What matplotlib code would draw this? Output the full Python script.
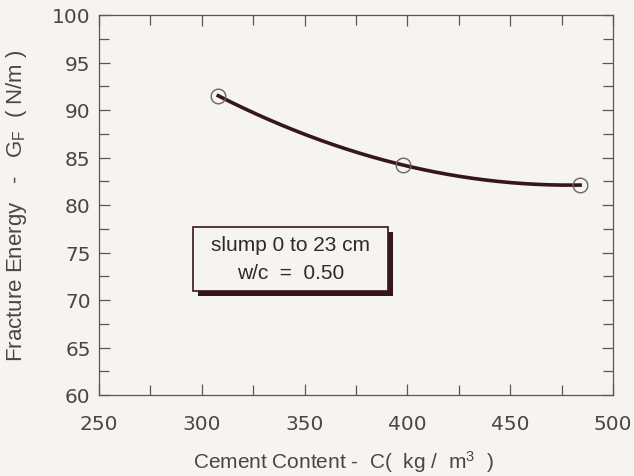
import numpy as np
import matplotlib.pyplot as plt
from matplotlib.patches import Rectangle

# data
cement = [308, 398, 484]          # kg/m3
fracture_energy = [91.5, 84.2, 82.1]   # N/m

x_ticks = [250, 300, 350, 400, 450, 500]
y_ticks = [60, 65, 70, 75, 80, 85, 90, 95, 100]

plt.rcParams['font.family'] = ['Liberation Sans', 'DejaVu Sans']
plt.rcParams['mathtext.fontset'] = 'custom'
plt.rcParams['mathtext.rm'] = 'Liberation Sans'
plt.rcParams['mathtext.it'] = 'Liberation Sans'
text_col = '#4a4646'
line_col = '#36161e'
bg = '#f6f4f0'

fig = plt.figure(figsize=(6.34, 4.77), dpi=100, facecolor=bg)
ax = fig.add_axes([99 / 634, 1 - 396 / 477, 514 / 634, 380 / 477])
ax.set_facecolor(bg)

# smooth fitted curve through the measured points
coef = np.polyfit(cement, fracture_energy, 2)
xs = np.linspace(cement[0], cement[-1], 200)
ax.plot(xs, np.polyval(coef, xs), color=line_col, lw=2.6, zorder=2)
ax.plot(cement, fracture_energy, 'o', ms=10.5, mfc='none', mec='#6a6464', mew=1.0, zorder=3)

ax.set_xlim(250, 500)
ax.set_ylim(60, 100)
ax.set_xticks(x_ticks)
ax.set_yticks(y_ticks)
ax.set_xticks(np.arange(250, 501, 25), minor=True)
ax.set_yticks(np.arange(60, 100.1, 2.5), minor=True)
ax.tick_params(which='both', direction='in', top=True, right=True, colors='#5a5656',
               labelcolor=text_col, width=0.9)
ax.tick_params(which='major', length=8)
ax.tick_params(which='minor', length=7)
ax.tick_params(axis='x', pad=14)
ax.tick_params(axis='y', pad=6)
for lab in ax.get_xticklabels() + ax.get_yticklabels():
    lab.set_family('DejaVu Sans')
    lab.set_fontsize(14.5)
for s in ax.spines.values():
    s.set_color('#5a5656')
    s.set_linewidth(0.9)

ax.set_xlabel('Cement Content -  C(  kg /  m$^3$  )', fontsize=15, color=text_col)
ax.xaxis.set_label_coords(0.475, -0.140)
ax.set_ylabel('Fracture Energy   -   G$_\\mathrm{F}$  ( N/m )', fontsize=16, color=text_col)
ax.yaxis.set_label_coords(-0.137, 0.50)

# annotation box with a drop shadow
ax.add_patch(Rectangle((298.0, 70.45), 95.0, 6.7, facecolor=line_col, edgecolor='none', zorder=4))
ax.add_patch(Rectangle((295.7, 71.0), 95.0, 6.7, facecolor=bg, edgecolor=line_col, lw=1.2, zorder=5))
ax.text(343.2, 75.8, 'slump 0 to 23 cm', ha='center', va='center', fontsize=15,
        color='#2e2a2a', zorder=6)
ax.text(343.2, 72.85, 'w/c  =  0.50', ha='center', va='center', fontsize=15,
        color='#2e2a2a', zorder=6)

fig.savefig('out.png', dpi=100, facecolor=bg)
